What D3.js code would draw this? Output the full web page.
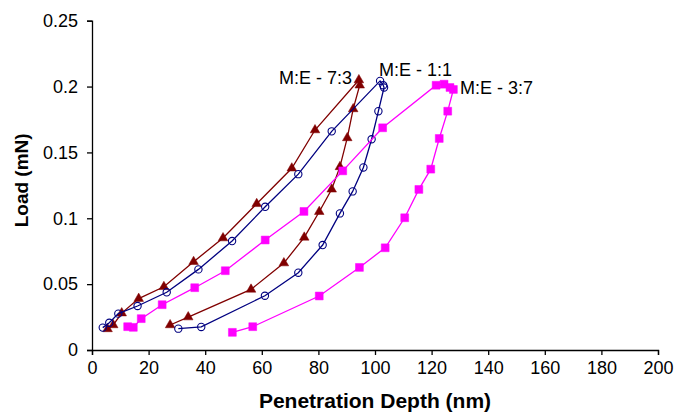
<!DOCTYPE html>
<html>
<head>
<meta charset="utf-8">
<script src="https://cdn.jsdelivr.net/npm/d3@7"></script>
<style>
body { margin:0; background:#fff; }
text { font-family: "Liberation Sans", Arial, sans-serif; }
</style>
</head>
<body>
<div id="chart"></div>
<script>
/////////////////////////////// data ///////////////////////////////
var me73Depth = [5.5, 7.5, 10.5, 16.5, 25.4, 35.9, 46.3, 58.2, 70.6, 78.8, 94.3, 94.6, 92.3, 90.2, 87.6, 84.7, 80.3, 75.0, 67.8, 56.2, 34.0, 27.6];
var me73Load  = [0.016, 0.019, 0.028, 0.039, 0.048, 0.067, 0.085, 0.111, 0.138, 0.167, 0.205, 0.201, 0.183, 0.161, 0.139, 0.122, 0.105, 0.0855, 0.066, 0.046, 0.025, 0.019];

var me11Depth = [3.8, 6.1, 9.3, 16.1, 26.4, 37.6, 49.5, 61.2, 72.9, 84.7, 101.8, 102.9, 103.2, 101.2, 98.8, 95.9, 92.1, 87.6, 81.5, 72.9, 61.1, 38.6, 30.5];
var me11Load  = [0.017, 0.0207, 0.0276, 0.0334, 0.0438, 0.0612, 0.0827, 0.1087, 0.1335, 0.166, 0.2043, 0.201, 0.1993, 0.1813, 0.160, 0.1386, 0.1204, 0.1037, 0.0797, 0.0587, 0.0412, 0.0175, 0.0162];

var me37Depth = [12.6, 14.6, 17.4, 24.8, 36.3, 47.1, 61.2, 74.9, 88.6, 102.7, 121.6, 124.4, 126.5, 127.7, 125.7, 122.7, 119.7, 115.5, 110.5, 103.6, 94.5, 80.3, 56.8, 49.6];
var me37Load  = [0.0177, 0.0172, 0.0238, 0.0344, 0.0473, 0.0602, 0.0835, 0.1052, 0.136, 0.1687, 0.201, 0.2018, 0.1993, 0.1978, 0.1813, 0.1606, 0.1373, 0.1219, 0.1004, 0.0776, 0.0627, 0.041, 0.0177, 0.0134];

var seriesNames = ["M:E - 7:3", "M:E - 1:1", "M:E - 3:7"];
var xTicks = [0, 20, 40, 60, 80, 100, 120, 140, 160, 180, 200];
var yTicks = [0, 0.05, 0.1, 0.15, 0.2, 0.25];

/////////////////////////////// layout ///////////////////////////////
var wdim = 674, hdim = 412;
var margin = {top:20.7, right:16, left:92, bottom:62};

var svg = d3.select("#chart").append("svg")
	.attr("width", wdim)
	.attr("height", hdim);

var x = d3.scaleLinear().domain([0, 200]).range([margin.left, wdim - margin.right]);
var y = d3.scaleLinear().domain([0, 0.25]).range([hdim - margin.bottom, margin.top]);

var series = [
	{name: seriesNames[0], depth: me73Depth, load: me73Load, color: "#800000", shape: "triangle", lx: 352, ly: 84, anchor: "end"},
	{name: seriesNames[1], depth: me11Depth, load: me11Load, color: "#000080", shape: "circle", lx: 379, ly: 76, anchor: "start"},
	{name: seriesNames[2], depth: me37Depth, load: me37Load, color: "#FF00FF", shape: "square", lx: 460, ly: 94, anchor: "start"}
];

// axes
var xAxis = svg.append("g")
	.attr("transform", "translate(0," + y(0) + ")")
	.call(d3.axisBottom(x).tickValues(xTicks).tickSize(5).tickPadding(6).tickFormat(d3.format("d")));
var yAxis = svg.append("g")
	.attr("transform", "translate(" + x(0) + ",0)")
	.call(d3.axisLeft(y).tickValues(yTicks).tickSize(5).tickPadding(9).tickFormat(function(d){ return d === 0 ? "0" : String(+d.toFixed(2)); }));

[xAxis, yAxis].forEach(function(a){
	a.select(".domain").attr("stroke", "#000").attr("stroke-width", 1.3);
	a.selectAll(".tick line").attr("stroke", "#000").attr("stroke-width", 1.3);
	a.selectAll(".tick text").attr("fill", "#000")
		.style("font-family", "'Liberation Sans', Arial, sans-serif")
		.style("font-size", "18px");
});

// axis titles
svg.append("text")
	.attr("x", (x(0) + x(200)) / 2)
	.attr("y", 408)
	.attr("text-anchor", "middle")
	.style("font-size", "21px")
	.style("font-weight", "bold")
	.text("Penetration Depth (nm)");

svg.append("text")
	.attr("transform", "translate(28," + (y(0.125) - 5) + ") rotate(-90)")
	.attr("text-anchor", "middle")
	.style("font-size", "19px")
	.style("font-weight", "bold")
	.text("Load (mN)");

var line = d3.line().x(function(d){ return x(d[0]); }).y(function(d){ return y(d[1]); });

series.forEach(function(s){
	var pts = s.depth.map(function(d, i){ return [d, s.load[i]]; });
	var g = svg.append("g");

	g.append("path")
		.attr("d", line(pts))
		.attr("fill", "none")
		.attr("stroke", s.color)
		.attr("stroke-width", 1.3);

	var sym = s.shape === "triangle" ? d3.symbol().type(d3.symbolTriangle).size(40)
		: s.shape === "square" ? d3.symbol().type(d3.symbolSquare).size(62)
		: d3.symbol().type(d3.symbolCircle).size(42);

	g.selectAll("path.mark")
		.data(pts)
		.enter().append("path")
		.attr("class", "mark")
		.attr("d", sym)
		.attr("transform", function(d){ return "translate(" + x(d[0]) + "," + y(d[1]) + ")"; })
		.attr("fill", s.shape === "circle" ? "none" : s.color)
		.attr("stroke", s.color)
		.attr("stroke-width", s.shape === "circle" ? 1.1 : 0.5);

	svg.append("text")
		.attr("x", s.lx)
		.attr("y", s.ly)
		.attr("text-anchor", s.anchor)
		.style("font-size", "18px")
		.attr("fill", "#000")
		.text(s.name);
});
</script>
</body>
</html>
